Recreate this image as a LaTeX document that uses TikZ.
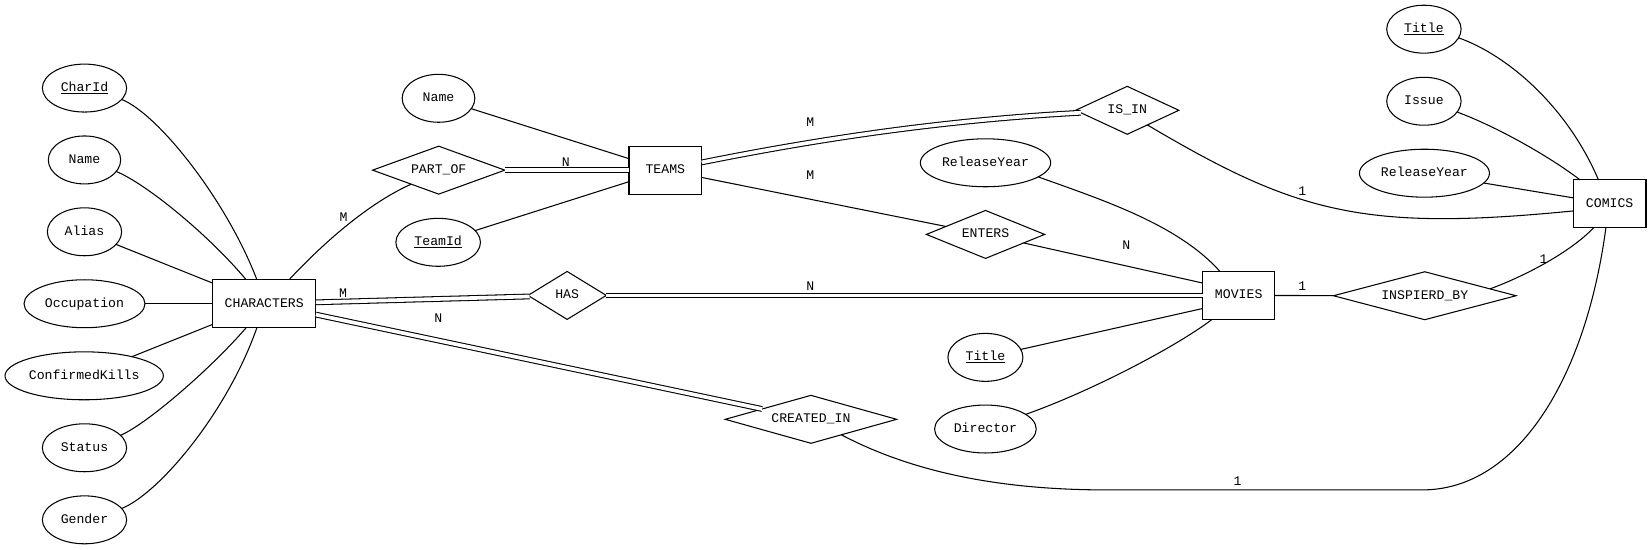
\documentclass[tikz,border=0pt]{standalone}
\usepackage{fontspec}
\setmainfont{Liberation Mono}
\usetikzlibrary{shapes.geometric}
\begin{document}
\begin{tikzpicture}[x=1pt,y=-1pt,line width=1pt,
  every node/.style={font=\fontsize{12.5}{15}\selectfont,inner sep=0pt,outer sep=0pt,text height=9pt,text depth=2.6pt},
  entity/.style={rectangle,draw=black,minimum width=68pt,minimum height=45.5pt},
  relation/.style={diamond,draw=black,aspect=3,minimum height=45.5pt},
  attr/.style={ellipse,draw=black,minimum height=45.5pt},
  card/.style={},
  total/.style={double,double distance=3.5pt}]
\useasboundingbox (0,0) rectangle (1568,521.1);
\node[entity,minimum width=98pt] (characters) at (250.8,288.3) {CHARACTERS};
\node[entity,minimum width=69pt] (teams) at (631.5,161.5) {TEAMS};
\node[entity] (movies) at (1175.7,280.4) {MOVIES};
\node[entity,minimum width=69pt] (comics) at (1527.8,193.5) {COMICS};
\node[relation,minimum width=125.5pt] (partof) at (416.4,161.5) {PART\_OF};
\node[relation,minimum width=74.3pt] (has) at (538.3,280.4) {HAS};
\node[relation,minimum width=162.7pt] (createdin) at (769.7,398) {CREATED\_IN};
\node[relation,minimum width=98pt] (isin) at (1069.9,104.7) {IS\_IN};
\node[relation,minimum width=112.3pt] (enters) at (935.4,222.5) {ENTERS};
\node[relation,minimum width=173.3pt] (inspiredby) at (1352.3,280.7) {INSPIERD\_BY};
\node[attr,minimum width=80pt] (charid) at (80.2,83.6) {\underline{CharId}};
\node[attr,minimum width=68.7pt] (charname) at (80.2,151.8) {Name};
\node[attr,minimum width=70.5pt] (alias) at (80.2,220) {Alias};
\node[attr,minimum width=114.8pt] (occupation) at (80.2,288.3) {Occupation};
\node[attr,minimum width=150.3pt] (kills) at (79.9,356.7) {ConfirmedKills};
\node[attr,minimum width=80pt] (status) at (80.2,425) {Status};
\node[attr,minimum width=80pt] (gender) at (80.2,493.4) {Gender};
\node[attr,minimum width=69pt] (teamname) at (416.2,93.3) {Name};
\node[attr,minimum width=80.3pt] (teamid) at (415.9,230) {\underline{TeamId}};
\node[attr,minimum width=123.7pt] (movieyear) at (935.4,154.5) {ReleaseYear};
\node[attr,minimum width=71.2pt] (movietitle) at (935.3,339.2) {\underline{Title}};
\node[attr,minimum width=96.5pt] (director) at (935.3,407.2) {Director};
\node[attr,minimum width=70.6pt] (comictitle) at (1351.5,27.7) {\underline{Title}};
\node[attr,minimum width=70.6pt] (issue) at (1351.5,96.1) {Issue};
\node[attr,minimum width=123.4pt] (comicyear) at (1352,164.4) {ReleaseYear};
\draw (charid.-17) .. controls (150,108) and (215,190) .. (characters.107);
\draw (charname.-20) .. controls (140,175) and (200,225) .. (characters.127);
\draw (alias) -- (characters);
\draw (occupation) -- (characters);
\draw (kills) -- (characters);
\draw (status.19) .. controls (140,402) and (200,350) .. (characters.-127);
\draw (gender.17) .. controls (150,469) and (215,393) .. (characters.-107);
\draw (characters.44) .. controls (300,238) and (345,195) .. (partof.207) node[card] at (326,207) {M};
\draw[total] (partof) -- (teams) node[card] at (537,154.4) {N};
\draw (teamname) -- (teams);
\draw (teamid) -- (teams);
\draw[total] (teams.12) .. controls (786,130) and (903,113.6) .. (isin.183) node[card] at (769,117) {M};
\draw (teams) -- (enters) node[card] at (769,167) {M};
\draw (enters) -- (movies.161) node[card] at (1069,234) {N};
\draw (movieyear.-15) .. controls (1047,190) and (1118,213) .. (movies.128);
\draw (movietitle) -- (movies.200);
\draw (director.20) .. controls (1034,372) and (1115,330) .. (movies.-138);
\draw[total] (characters) -- (has) node[card] at (325.6,279) {M};
\draw[total] (has) -- (movies) node[card] at (769,272.6) {N};
\draw[total] (characters) -- (createdin) node[card] at (416,303) {N};
\draw (createdin.-27) .. controls (860,445) and (940,465) .. (1050,465) -- (1350,465) .. controls (1440,465) and (1505,360) .. (comics.-99) node[card] at (1174.6,458) {1};
\draw (isin.-36) .. controls (1230,202) and (1293,220) .. (comics.191) node[card] at (1236,182) {1};
\draw (movies) -- (inspiredby) node[card] at (1236,272.6) {1};
\draw (inspiredby.6) .. controls (1445,263) and (1490,240) .. (comics.-124) node[card] at (1465,246.7) {1};
\draw (comictitle.-14) .. controls (1430,52) and (1487,100) .. (comics.115);
\draw (issue.-18) .. controls (1420,120) and (1470,148) .. (comics.141);
\draw (comicyear) -- (comics);
\end{tikzpicture}
\end{document}
